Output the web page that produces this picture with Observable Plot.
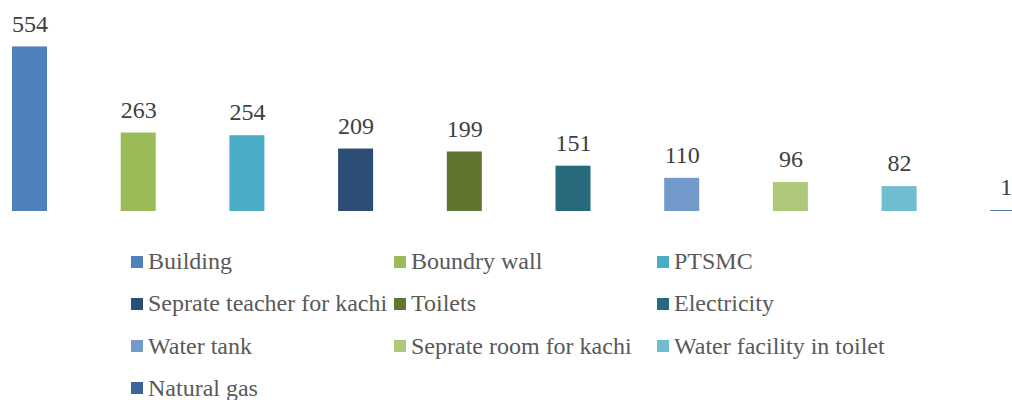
<!DOCTYPE html>
<html>
<head>
<meta charset="utf-8">
<script src="https://cdn.jsdelivr.net/npm/d3@7"></script>
<script src="https://cdn.jsdelivr.net/npm/@observablehq/plot@0.6"></script>
<style>
  html, body { margin: 0; padding: 0; background: #fff; }
  #wrap { position: relative; width: 1012px; height: 400px; overflow: hidden; font-family: "Liberation Serif", "Times New Roman", serif; }
  #legend { position: absolute; left: 0; top: 0; width: 1012px; height: 400px; pointer-events: none; }
  .item { position: absolute; display: flex; align-items: center; height: 30px; font-size: 24px; color: #595959; white-space: nowrap; font-family: "Liberation Serif", "Times New Roman", serif; }
  .sw { width: 12px; height: 12px; margin-right: 5px; flex: none; }
</style>
</head>
<body>
<div id="wrap"><div id="chart"></div><div id="legend"></div></div>
<script>
const categories = ["Building", "Boundry wall", "PTSMC", "Seprate teacher for kachi", "Toilets", "Electricity", "Water tank", "Seprate room for kachi", "Water facility in toilet", "Natural gas"];
const values = [554, 263, 254, 209, 199, 151, 110, 96, 82, 1];
const colors = ["#4F81BD", "#9BBB59", "#4BACC6", "#2C4D75", "#5F7530", "#276A7C", "#729ACA", "#AFC97A", "#6FBDD1", "#3C6699"];

const data = categories.map((c, i) => ({category: c, value: values[i]}));

const chart = Plot.plot({
  width: 1012,
  height: 230,
  marginTop: 0, marginBottom: 0, marginLeft: 0, marginRight: 0,
  style: {fontFamily: "Liberation Serif", background: "#fff"},
  x: {type: "band", domain: categories, range: [-24.85, 1062.15], paddingInner: 0.678, paddingOuter: 0.339, round: false, axis: null},
  y: {domain: [0, 554], range: [211, 47], axis: null},
  color: {domain: categories, range: colors},
  marks: [
    Plot.barY(data, {x: "category", y: "value", fill: "category", insetTop: -0.6}),
    Plot.text(data.filter(d => d.value >= 10), {x: "category", y: "value", text: d => String(d.value), dy: -23.5, fontSize: 24, fill: "#404040"}),
    Plot.text(data.filter(d => d.value < 10), {x: "category", y: "value", text: d => String(d.value), dy: -23.5, dx: -2, fontSize: 24, fill: "#404040"})
  ]
});
document.getElementById("chart").appendChild(chart);

const legend = document.getElementById("legend");
categories.forEach((c, i) => {
  const col = i % 3, row = Math.floor(i / 3);
  const el = document.createElement("div");
  el.className = "item";
  el.style.left = (131 + col * 263) + "px";
  el.style.top = (261.5 + row * 42.3 - 15) + "px";
  const sw = document.createElement("span");
  sw.className = "sw";
  sw.style.background = colors[i];
  const tx = document.createElement("span");
  tx.textContent = c;
  el.appendChild(sw); el.appendChild(tx);
  legend.appendChild(el);
});
</script>
</body>
</html>
